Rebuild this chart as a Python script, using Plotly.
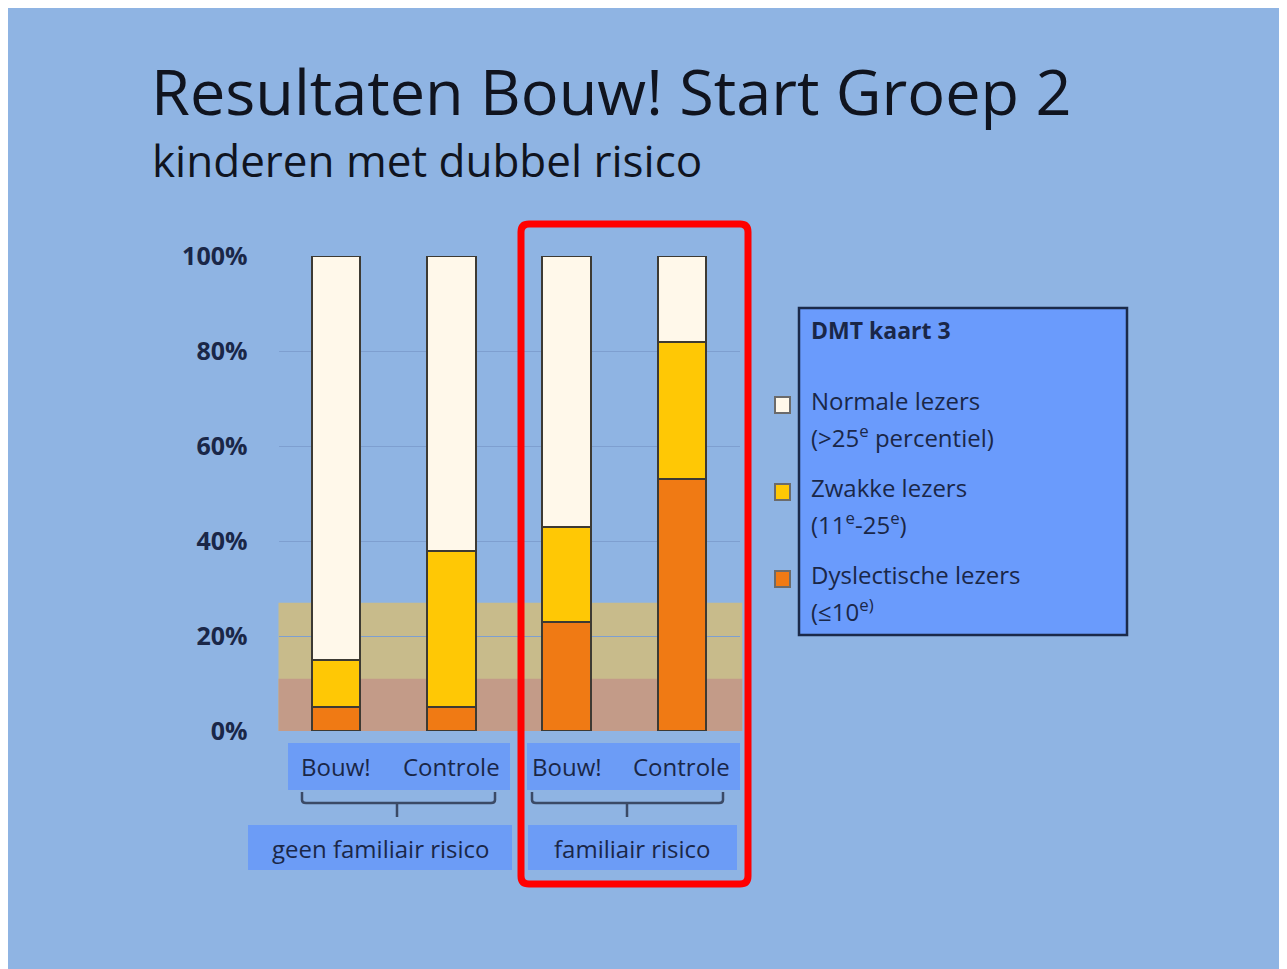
import plotly.graph_objects as go

# ---------------- data ----------------
categories = ["Bouw!", "Controle", "Bouw!", "Controle"]
groups = ["geen familiair risico", "familiair risico"]
series_names = ["Dyslectische lezers", "Zwakke lezers", "Normale lezers"]
series_sub = ["(≤10<sup>e)</sup>", "(11<sup>e</sup>-25<sup>e</sup>)", "(>25<sup>e</sup> percentiel)"]
dyslectisch = [5, 5, 23, 53]
zwak = [10, 33, 20, 29]
normaal = [85, 62, 57, 18]
band_levels = [27, 11]          # shaded bands (percent)
y_ticks = [0, 20, 40, 60, 80, 100]
legend_title = "DMT kaart 3"
title = "Resultaten Bouw! Start Groep 2"
subtitle = "kinderen met dubbel risico"

W, H = 1287, 969
OFF = 8            # page body margin offset
BG = "#8FB4E3"
BOX = "#6C9CF6"
TXT = "#1A2748"
colors = ["#F07A14", "#FFC805", "#FFF8EA"]
band_colors = ["#C8BB8B", "#C39B88"]


def px(x):
    return (x - OFF) / W


def py(y):
    return 1 - (y - OFF) / H


fig = go.Figure()
xs = list(range(len(categories)))
for name, vals, col in zip(series_names, [dyslectisch, zwak, normaal], colors):
    fig.add_trace(go.Bar(
        x=xs, y=vals, name=name, width=0.42,
        marker=dict(color=col, line=dict(color="#3D3A33", width=2)),
        showlegend=False,
    ))

shapes = []
# bands
for lvl, bc in zip(band_levels, band_colors):
    shapes.append(dict(type="rect", xref="x domain", yref="y", x0=0, x1=1.006, y0=0, y1=lvl,
                       fillcolor=bc, line=dict(width=0), layer="below"))

# category label boxes
for (x0, x1) in [(288, 510), (527, 740)]:
    shapes.append(dict(type="rect", xref="paper", yref="paper", x0=px(x0), x1=px(x1),
                       y0=py(790), y1=py(743), fillcolor=BOX, line=dict(width=0)))
group_boxes = [(248, 512), (528, 737)]
for (x0, x1) in group_boxes:
    shapes.append(dict(type="rect", xref="paper", yref="paper", x0=px(x0), x1=px(x1),
                       y0=py(870), y1=py(825), fillcolor=BOX, line=dict(width=0)))
# brackets
for (l, r, c) in [(302, 495, 397), (532, 723, 627)]:
    path = (f"M {px(l)} {py(792)} L {px(l)} {py(800)} Q {px(l)} {py(803)} {px(l+4)} {py(803)} "
            f"L {px(r-4)} {py(803)} Q {px(r)} {py(803)} {px(r)} {py(800)} L {px(r)} {py(792)} "
            f"M {px(c)} {py(803)} L {px(c)} {py(817)}")
    shapes.append(dict(type="path", xref="paper", yref="paper", path=path,
                       line=dict(color="#3B4A66", width=2.5)))

# red highlight rectangle with rounded corners
rx0, rx1, ry0, ry1, rr = 521, 748, 224, 884, 8
path = (f"M {px(rx0+rr)} {py(ry0)} L {px(rx1-rr)} {py(ry0)} Q {px(rx1)} {py(ry0)} {px(rx1)} {py(ry0+rr)} "
        f"L {px(rx1)} {py(ry1-rr)} Q {px(rx1)} {py(ry1)} {px(rx1-rr)} {py(ry1)} "
        f"L {px(rx0+rr)} {py(ry1)} Q {px(rx0)} {py(ry1)} {px(rx0)} {py(ry1-rr)} "
        f"L {px(rx0)} {py(ry0+rr)} Q {px(rx0)} {py(ry0)} {px(rx0+rr)} {py(ry0)} Z")
shapes.append(dict(type="path", xref="paper", yref="paper", path=path,
                   line=dict(color="#FF0000", width=7)))

# legend box
shapes.append(dict(type="rect", xref="paper", yref="paper", x0=px(799), x1=px(1127),
                   y0=py(635), y1=py(308), fillcolor="#6A9BFC", line=dict(color="#1B2A4A", width=2.5)))
legend_rows = [400, 487, 574]
legend_order = [2, 1, 0]
for row, si in zip(legend_rows, legend_order):
    cy = row + 5
    shapes.append(dict(type="rect", xref="paper", yref="paper", x0=px(775), x1=px(790),
                       y0=py(cy + 8), y1=py(cy - 8), fillcolor=colors[si],
                       line=dict(color="#6B6B6B", width=2)))

annotations = []
FONT = "Open Sans"
annotations.append(dict(text=title, xref="paper", yref="paper", x=px(149), y=py(91),
                        xanchor="left", yanchor="middle", showarrow=False,
                        font=dict(family=FONT, size=63, color="#10141F")))
annotations.append(dict(text=subtitle, xref="paper", yref="paper", x=px(150), y=py(160),
                        xanchor="left", yanchor="middle", showarrow=False,
                        font=dict(family=FONT, size=44, color="#10141F")))
for i, cat in enumerate(categories):
    annotations.append(dict(text=cat, xref="x", yref="paper", x=i, y=py(766),
                            xanchor="center", yanchor="middle", showarrow=False,
                            font=dict(family=FONT, size=24, color=TXT)))
for g, (x0, x1) in zip(groups, group_boxes):
    annotations.append(dict(text=g, xref="paper", yref="paper", x=px((x0 + x1) / 2), y=py(848),
                            xanchor="center", yanchor="middle", showarrow=False,
                            font=dict(family=FONT, size=24, color=TXT)))
annotations.append(dict(text=f"<b>{legend_title}</b>", xref="paper", yref="paper", x=px(809), y=py(330),
                        xanchor="left", yanchor="middle", showarrow=False,
                        font=dict(family=FONT, size=23, color=TXT)))
for row, si in zip(legend_rows, legend_order):
    annotations.append(dict(text=series_names[si], xref="paper", yref="paper", x=px(809), y=py(row),
                            xanchor="left", yanchor="middle", showarrow=False,
                            font=dict(family=FONT, size=24, color=TXT)))
    annotations.append(dict(text=series_sub[si], xref="paper", yref="paper", x=px(809), y=py(row + 36),
                            xanchor="left", yanchor="middle", showarrow=False,
                            font=dict(family=FONT, size=24, color=TXT)))

fig.update_layout(
    width=W, height=H, autosize=False,
    margin=dict(l=0, r=0, t=0, b=0, pad=0, autoexpand=False),
    paper_bgcolor=BG, plot_bgcolor="rgba(0,0,0,0)",
    barmode="stack",
    shapes=shapes, annotations=annotations,
    xaxis=dict(domain=[px(278.5), px(739.5)], range=[-0.5, 3.5], showticklabels=False,
               showgrid=False, zeroline=False, showline=False, ticks="", automargin=False),
    yaxis=dict(domain=[py(731), py(256)], range=[0, 100], tickmode="array", tickvals=y_ticks,
               ticktext=[f"{v}%" for v in y_ticks],
               showgrid=True, gridcolor="#7E9FD0", gridwidth=1, automargin=False,
               zeroline=False, showline=False, ticks="", ticklabelstandoff=30,
               tickfont=dict(family=FONT, size=25, color=TXT, weight=700)),
    font=dict(family=FONT),
)

fig.write_html("out.html")
